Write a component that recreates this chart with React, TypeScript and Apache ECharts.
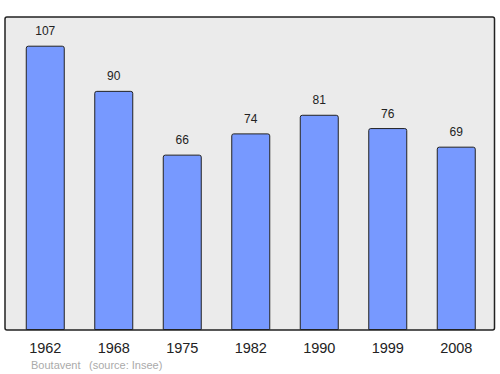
import React, { useEffect, useRef } from "react";
import * as echarts from "echarts";

const years = ["1962", "1968", "1975", "1982", "1990", "1999", "2008"];
const population = [107, 90, 66, 74, 81, 76, 69];
const placeName = "Boutavent";
const sourceText = "(source: Insee)";

export default function App() {
  const ref = useRef<HTMLDivElement>(null);
  useEffect(() => {
    const chart = echarts.init(ref.current!, null, { renderer: "svg" });
    chart.setOption({
      animation: false,
      textStyle: { fontFamily: "Liberation Sans, Arial, sans-serif" },
      grid: { left: 11, right: 9.5, top: 17, bottom: 44, containLabel: false },
      graphic: [
        {
          type: "rect",
          z: 0,
          shape: { x: 5, y: 17, width: 489.5, height: 313, r: 2 },
          style: { fill: "#ebebeb", stroke: "#222", lineWidth: 1.5 },
        },
        {
          type: "text",
          left: 31,
          top: 359,
          style: { text: placeName, fill: "#aaaaaa", fontSize: 11, fontFamily: "Liberation Sans, Arial, sans-serif" },
        },
        {
          type: "text",
          left: 89,
          top: 359,
          style: { text: sourceText, fill: "#aaaaaa", fontSize: 11, fontFamily: "Liberation Sans, Arial, sans-serif" },
        },
      ],
      xAxis: {
        type: "category",
        data: years,
        axisLine: { show: false },
        axisTick: { show: false },
        axisLabel: { color: "#222", fontSize: 14.5, margin: 10 },
      },
      yAxis: {
        type: "value",
        min: 0,
        max: 117.8,
        show: false,
        splitLine: { show: false },
      },
      series: [
        {
          type: "bar",
          data: population,
          barWidth: 39,
          itemStyle: { color: "#7799ff", borderColor: "#222", borderWidth: 1, borderRadius: [2, 2, 0, 0] },
          label: { show: true, position: "top", distance: 8.5, color: "#222", fontSize: 12 },
        },
      ],
    });
    return () => chart.dispose();
  }, []);
  return <div ref={ref} style={{ width: 500, height: 374, position: "absolute", left: 0, top: 0, background: "#fff" }} />;
}
